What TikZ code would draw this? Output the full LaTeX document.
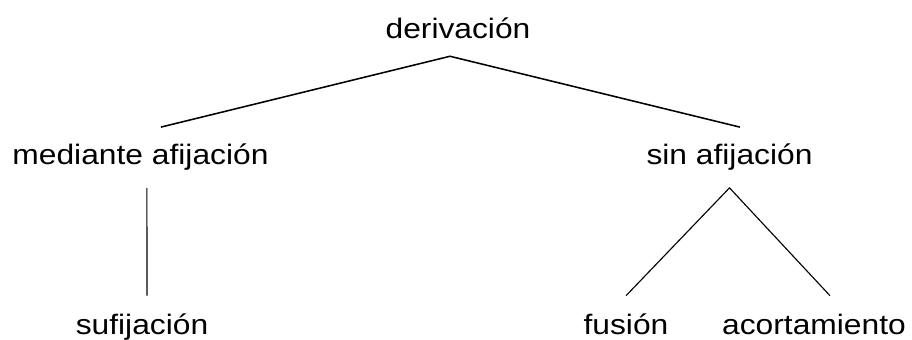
\documentclass[tikz,border=0pt]{standalone}
\usepackage{fontspec}
\setmainfont{Liberation Sans}
\usepackage{tikz}
\usetikzlibrary{positioning}

% slightly widened lettering
\newcommand{\wide}[1]{\scalebox{1.13}[1]{#1}}

\begin{document}
\begin{tikzpicture}[word/.style={font=\fontsize{20}{24}\selectfont, anchor=base, inner xsep=0pt, text height=0.5cm, text depth=0.125cm}]
    \useasboundingbox (0,0) rectangle (22.8,8.5);

    % the three levels of the tree
    \node[word, inner ysep=0.3cm] (derivacion) at (11.45, 7.525) {\wide{derivación}};

    \node[word, inner ysep=0.44cm] (mediante) at (3.5125, 4.375) {\wide{mediante afijación}};
    \node[word, inner ysep=0.44cm] (sin) at (18.2375, 4.375) {\wide{sin afijación}};

    \node[word, inner ysep=0.475cm] (sufijacion) at (3.55, 0.125) {\wide{sufijación}};
    \node[word, inner ysep=0.475cm] (fusion) at (15.65, 0.125) {\wide{fusión}};
    \node[word, inner ysep=0.475cm] (acortamiento) at (20.35, 0.125) {\wide{acortamiento}};

    % the branches
    \draw[line width=1.1pt] ([xshift=0.51cm]mediante.north) to ([xshift=-0.2cm]derivacion.south) to ([xshift=0.26cm]sin.north);
    \draw[line width=0.8pt] ([xshift=0.16cm]mediante.south) to ([xshift=0.125cm]sufijacion.north);
    \draw[line width=0.8pt] (fusion.north) to (sin.south) to ([xshift=0.4cm]acortamiento.north);
\end{tikzpicture}
\end{document}
